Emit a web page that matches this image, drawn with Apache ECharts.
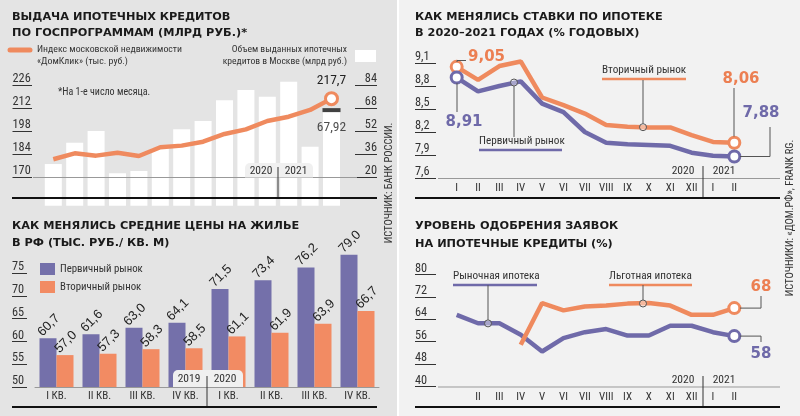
<!DOCTYPE html>
<html><head><meta charset="utf-8">
<script src="https://cdn.jsdelivr.net/npm/echarts@6/dist/echarts.min.js"></script>
<style>
html,body{margin:0;padding:0;}
body{background:linear-gradient(to right,#e4e4e4 0,#e4e4e4 397px,#ffffff 397px,#ffffff 399px,#f2f2f2 399px);}
#c{width:800px;height:416px;}
</style>
</head><body><div id="c"></div>
<script>
// ---------- DATA ----------
const volMonths = ['II','III','IV','V','VI','VII','VIII','IX','X','XI','XII','I','II','III'];
const domclickIndex = [180.8,184.4,183.0,184.8,182.8,188.1,189.1,191.5,196.2,199.0,204.1,206.7,210.8,217.7];
const mortgageVolume = [29,43.9,52,22.6,24.2,40.2,53.2,59,73.4,80.5,75.9,86.3,41.1,67.92];
const volLeftTicks = [170,184,198,212,226];
const volRightTicks = [20,36,52,68,84];

const quarters = ['I КВ.','II КВ.','III КВ.','IV КВ.','I КВ.','II КВ.','III КВ.','IV КВ.'];
const primaryPrice = [60.7,61.6,63.0,64.1,71.5,73.4,76.2,79.0];
const secondaryPrice = [57.0,57.3,58.3,58.5,61.1,61.9,63.9,66.7];
const priceTicks = [50,55,60,65,70,75];

const rateMonths = ['I','II','III','IV','V','VI','VII','VIII','IX','X','XI','XII','I','II'];
const secondaryRate = [9.05,8.88,9.06,9.12,8.65,8.55,8.44,8.29,8.27,8.26,8.26,8.16,8.07,8.06];
const primaryRate = [8.91,8.73,8.80,8.86,8.57,8.46,8.20,8.06,8.04,8.03,8.02,7.93,7.89,7.88];
const rateTicks = [7.6,7.9,8.2,8.5,8.8,9.1];

const approvalMonths = ['I','II','III','IV','V','VI','VII','VIII','IX','X','XI','XII','I','II'];
const marketApproval = [65.6,62.6,62.6,58.5,52.5,57.3,59.4,60.5,58.2,58.2,61.7,61.7,59.4,58];
const preferentialApproval = [null,null,null,54.9,69.8,67.2,68.6,68.9,69.6,69.8,68.9,65.6,65.6,68];
const approvalTicks = [40,48,56,64,72,80];

// ---------- STYLE ----------
const NARROW = "'Liberation Sans Narrow','Roboto Condensed','DejaVu Sans Condensed',sans-serif";
const SANS = "'Liberation Sans',Roboto,sans-serif";
const TITLE = "'DejaVu Sans',sans-serif";
const ORANGE = '#ef8a5e', PURPLE = '#6f6aa9', ORANGE_BAR = '#f28b63', PURPLE_BAR = '#7470aa';
const comma = (v,d) => v.toFixed(d).replace('.', ',');
const TS = 11.3; // title size

function txt(text,x,y,o){o=o||{};return {type:'text',x:x,y:y,rotation:o.rot||0,z:100,
  style:{text:text,fill:o.fill||'#222',font:(o.weight||'normal')+' '+(o.size||11)+'px '+(o.family||NARROW),
  align:o.align||'left',verticalAlign:o.va||'middle'}};}
function ttl(text,x,y){return txt(text,x,y,{weight:'bold',size:TS,family:TITLE,fill:'#1a1a1a'});}
function ln(x1,y1,x2,y2,stroke,w,z){return {type:'line',z:z||50,shape:{x1:x1,y1:y1,x2:x2,y2:y2},style:{stroke:stroke,lineWidth:w,lineCap:'butt'}};}
function poly(pts,stroke,w){return {type:'polyline',z:50,shape:{points:pts},style:{stroke:stroke,lineWidth:w,fill:null}};}
function ring(cx,cy){return {type:'circle',z:60,shape:{cx:cx,cy:cy,r:3.5},style:{stroke:'#555',lineWidth:1,fill:'rgba(255,255,255,0.4)'}};}
function tab(x,y,w,h){return {type:'rect',z:10,shape:{x:x,y:y,width:w,height:h,r:[5,5,0,0]},style:{fill:'#f0f0f0'}};}

function valueAxis(grid,min,max,ticks,offset,len,pos,fmt){
  return {gridIndex:grid,type:'value',min:min,max:max,position:pos||'left',offset:offset,
    axisLine:{show:false},splitLine:{show:false},
    axisTick:{show:true,length:len,customValues:ticks,lineStyle:{color:'#333',width:1}},
    axisLabel:{customValues:ticks,margin:len,align:pos==='right'?'right':'left',verticalAlign:'bottom',
      fontFamily:NARROW,fontSize:12.3,color:'#333',formatter:fmt||(v=>String(v))}};
}
function catAxis(grid,data,margin,hideFirst,line){
  return {gridIndex:grid,type:'category',data:data,
    axisLine:{show:!!line,lineStyle:{color:'#999',width:1}},axisTick:{show:false},
    axisLabel:{interval:0,margin:margin,fontFamily:NARROW,fontSize:11,color:'#333',
      formatter:(v,i)=>(hideFirst&&i===0)?'':v}};
}
function circled(values,idxs,color,size){
  return values.map((v,i)=>{
    if(v===null) return '-';
    if(idxs.indexOf(i)<0) return v;
    return {value:v,symbol:'circle',symbolSize:size,itemStyle:{color:'#fff',borderColor:color,borderWidth:3}};
  });
}

const lastVol = mortgageVolume.length-1;
const lastR = rateMonths.length-1;

const option = {
  animation:false,
  backgroundColor:'transparent',
  grid:[
    {left:42.6,top:85,width:299.6,height:92},
    {left:35,top:250.3,width:344,height:136.7},
    {left:446,top:63,width:299,height:115},
    {left:446,top:274.5,width:299,height:112}
  ],
  legend:{data:['Первичный рынок','Вторичный рынок'],orient:'vertical',left:35,top:258,
    itemWidth:15,itemHeight:12,itemGap:6,icon:'rect',selectedMode:false,
    textStyle:{fontFamily:NARROW,fontSize:10.8,color:'#333'}},
  xAxis:[
    catAxis(0,volMonths,5,false,false),
    catAxis(1,quarters,4,false,true),
    catAxis(2,rateMonths,5,false,false),
    catAxis(3,approvalMonths,5,true,false)
  ],
  yAxis:[
    valueAxis(0,170,226,volLeftTicks,10.6,19.5,'left'),
    valueAxis(0,20,84,volRightTicks,12.8,22,'right'),
    valueAxis(1,50,80,priceTicks,8,15,'left'),
    valueAxis(2,7.6,9.1,rateTicks,10,21,'left',v=>comma(v,1)),
    valueAxis(3,40,80,approvalTicks,10,21,'left')
  ],
  series:[
    {type:'bar',name:'Объем',xAxisIndex:0,yAxisIndex:1,data:mortgageVolume,barWidth:17,clip:false,
      itemStyle:{color:'#ffffff'},z:2},
    {type:'scatter',xAxisIndex:0,yAxisIndex:1,clip:false,
      data:mortgageVolume.map((v,i)=>i===lastVol?v:'-'),symbol:'rect',symbolSize:[18,4],symbolOffset:[0,2],
      itemStyle:{color:'#111'},z:5,
      label:{show:true,position:'bottom',distance:9,formatter:p=>comma(p.value,2),fontFamily:NARROW,fontSize:13.5,color:'#222'}},
    {type:'line',name:'Индекс',xAxisIndex:0,yAxisIndex:0,symbol:'none',showAllSymbol:true,clip:false,
      data:domclickIndex.map((v,i)=>i===lastVol?{value:v,symbol:'circle',symbolSize:12,
        itemStyle:{color:'#fff',borderColor:ORANGE,borderWidth:3},
        label:{show:true,position:'top',distance:4,formatter:p=>comma(p.value,1),fontFamily:NARROW,fontSize:13.5,color:'#222'}}:v),
      lineStyle:{width:4.5,color:ORANGE},z:4},

    {type:'bar',name:'Первичный рынок',xAxisIndex:1,yAxisIndex:2,data:primaryPrice,barWidth:17,barGap:'0%',
      itemStyle:{color:PURPLE_BAR},
      label:{show:true,position:'top',distance:3,rotate:45,align:'left',verticalAlign:'bottom',offset:[-5,0],
        formatter:p=>comma(p.value,1),fontFamily:SANS,fontSize:13,color:'#222'}},
    {type:'bar',name:'Вторичный рынок',xAxisIndex:1,yAxisIndex:2,data:secondaryPrice,barWidth:17,barGap:'0%',
      itemStyle:{color:ORANGE_BAR},
      label:{show:true,position:'top',distance:3,rotate:45,align:'left',verticalAlign:'bottom',offset:[-5,0],
        formatter:p=>comma(p.value,1),fontFamily:SANS,fontSize:13,color:'#222'}},

    {type:'line',name:'Вторичный рынок ставки',xAxisIndex:2,yAxisIndex:3,symbol:'none',showAllSymbol:true,clip:false,
      data:circled(secondaryRate,[0,lastR],ORANGE,11),lineStyle:{width:4.5,color:ORANGE},z:3},
    {type:'line',name:'Первичный рынок ставки',xAxisIndex:2,yAxisIndex:3,symbol:'none',showAllSymbol:true,clip:false,
      data:circled(primaryRate,[0,lastR],PURPLE,11),lineStyle:{width:4.5,color:PURPLE},z:4},

    {type:'line',name:'Рыночная ипотека',xAxisIndex:3,yAxisIndex:4,symbol:'none',showAllSymbol:true,clip:false,
      data:circled(marketApproval,[lastR],PURPLE,11),lineStyle:{width:4.5,color:PURPLE},z:3},
    {type:'line',name:'Льготная ипотека',xAxisIndex:3,yAxisIndex:4,symbol:'none',showAllSymbol:true,clip:false,
      data:circled(preferentialApproval,[lastR],ORANGE,11),lineStyle:{width:4.5,color:ORANGE},z:4}
  ],
  graphic:{elements:[
    // titles
    ttl('ВЫДАЧА ИПОТЕЧНЫХ КРЕДИТОВ',12,17),
    ttl('ПО ГОСПРОГРАММАМ (МЛРД РУБ.)*',12,33),
    ttl('КАК МЕНЯЛИСЬ СРЕДНИЕ ЦЕНЫ НА ЖИЛЬЕ',12,226),
    ttl('В РФ (ТЫС. РУБ./ КВ. М)',12,243.5),
    ttl('КАК МЕНЯЛИСЬ СТАВКИ ПО ИПОТЕКЕ',415,17),
    ttl('В 2020–2021 ГОДАХ (% ГОДОВЫХ)',415,33),
    ttl('УРОВЕНЬ ОДОБРЕНИЯ ЗАЯВОК',415,226),
    ttl('НА ИПОТЕЧНЫЕ КРЕДИТЫ (%)',415,244),

    // top-left legend
    {type:'line',z:50,shape:{x1:10,y1:50,x2:30,y2:50},style:{stroke:ORANGE,lineWidth:5,lineCap:'round'}},
    txt('Индекс московской недвижимости',37,50,{size:9.8,fill:'#333'}),
    txt('«ДомКлик» (тыс. руб.)',37,62,{size:9.8,fill:'#333'}),
    txt('Объем выданных ипотечных',347,50,{size:9.6,align:'right',fill:'#333'}),
    txt('кредитов в Москве (млрд руб.)',347,62,{size:9.6,align:'right',fill:'#333'}),
    {type:'rect',z:50,shape:{x:355,y:50,width:21,height:12},style:{fill:'#fff'}},
    txt('*На 1-е число месяца.',58,92,{size:10,fill:'#333'}),

    // baselines
    ln(33,177.5,357,177.5,'#999',1,5),
    ln(438,178.5,780,178.5,'#999',1,5),
    ln(438,387,780,387,'#999',1,5),

    // year tabs & dividers
    tab(245,163,68,14.5),
    txt('2020',261,171,{size:11.5,align:'center',fill:'#333'}),
    txt('2021',296,171,{size:11.5,align:'center',fill:'#333'}),
    ln(278,167,278,198,'#333',1,20),
    tab(173,370,70,17),
    txt('2019',189,379,{size:11.5,align:'center',fill:'#333'}),
    txt('2020',225,379,{size:11.5,align:'center',fill:'#333'}),
    ln(207,376,207,407,'#333',1,20),
    txt('2020',683,171.5,{size:11.5,align:'center',fill:'#333'}),
    txt('2021',724,171.5,{size:11.5,align:'center',fill:'#333'}),
    ln(703,166,703,198,'#333',1,20),
    txt('2020',683,380,{size:11.5,align:'center',fill:'#333'}),
    txt('2021',724,380,{size:11.5,align:'center',fill:'#333'}),
    ln(703,376,703,407,'#333',1,20),

    // thick rules
    ln(12,198,377,198,'#111',2,20),
    ln(12,407,377,407,'#111',2,20),
    ln(415,198,780,198,'#111',2,20),
    ln(415,407,780,407,'#111',2,20),

    // sources
    txt('ИСТОЧНИК: БАНК РОССИИ.',389,183,{rot:Math.PI/2,align:'center',size:10.5,fill:'#333'}),
    txt('ИСТОЧНИКИ: «ДОМ.РФ», FRANK RG.',790,218,{rot:Math.PI/2,align:'center',size:10.5,fill:'#333'}),

    // top-right annotations
    poly([[457,62],[457,60.5],[466,60.5]],'#555',1),
    txt(comma(secondaryRate[0],2),468,57,{weight:'bold',size:15,family:TITLE,fill:'#ec7f52'}),
    ln(457,83,457,112,'#555',1),
    txt(comma(primaryRate[0],2),464,122,{weight:'bold',size:15,family:TITLE,fill:PURPLE,align:'center'}),
    ring(514,82.5),
    ln(514,86,514,137,'#555',1),
    txt('Первичный рынок',479,141.5,{size:11.2,fill:'#333'}),
    ln(479,150,562,150,PURPLE,2.5),
    txt('Вторичный рынок',602,70.5,{size:11.2,fill:'#333'}),
    ln(602,79,686,79,ORANGE,2.5),
    ln(643,80,643,123.7,'#555',1),
    ring(643,127.2),
    ln(734,88,734,136.5,'#555',1),
    txt(comma(secondaryRate[lastR],2),741,79,{weight:'bold',size:15,family:TITLE,fill:'#ec7f52',align:'center'}),
    poly([[740,156.5],[770,156.5],[770,127]],'#555',1),
    txt(comma(primaryRate[lastR],2),761,113,{weight:'bold',size:15,family:TITLE,fill:PURPLE,align:'center'}),

    // bottom-right annotations
    txt('Рыночная ипотека',453,276,{size:11.2,fill:'#333'}),
    ln(453,285,537,285,PURPLE,2.5),
    ln(488,285,488,319.9,'#555',1),
    ring(488,323.4),
    txt('Льготная ипотека',609,276,{size:11.2,fill:'#333'}),
    ln(609,285,692,285,ORANGE,2.5),
    ln(643,285,643,300,'#555',1),
    ring(643,303.5),
    poly([[740,308.1],[761,308.1],[761,296]],'#555',1),
    txt(String(preferentialApproval[lastR]),761,287,{weight:'bold',size:15,family:TITLE,fill:'#ec7f52',align:'center'}),
    poly([[740,336.1],[761,336.1],[761,342]],'#555',1),
    txt(String(marketApproval[lastR]),761,354,{weight:'bold',size:15,family:TITLE,fill:PURPLE,align:'center'})
  ]}
};
const chart = echarts.init(document.getElementById('c'));
chart.setOption(option);
</script>
</body></html>
